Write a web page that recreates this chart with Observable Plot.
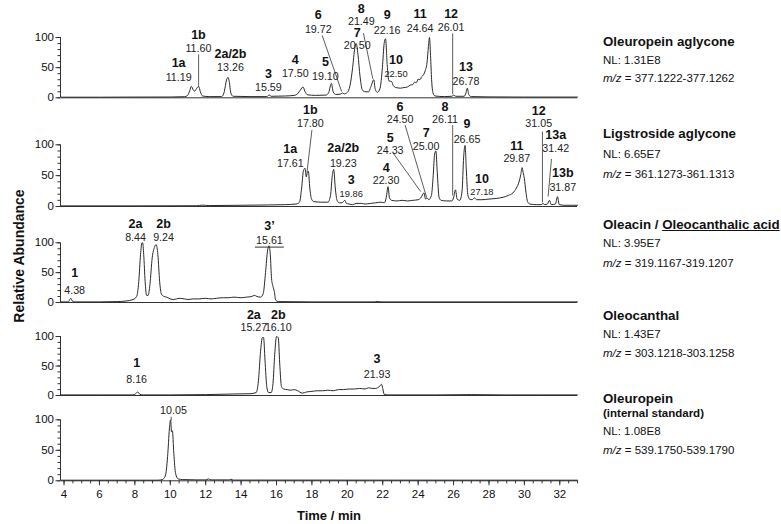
<!DOCTYPE html>
<html><head><meta charset="utf-8">
<script src="https://cdn.jsdelivr.net/npm/d3@7"></script>
<script src="https://cdn.jsdelivr.net/npm/@observablehq/plot@0.6"></script>
<style>
body{margin:0;background:#fff;font-family:Arial,"Liberation Sans",sans-serif;}
#wrap{position:relative;width:781px;height:524px;overflow:hidden;}
#wrap svg{display:block;}
.inf{position:absolute;left:603px;line-height:1;white-space:nowrap;color:#111;}
.ttl{font-weight:bold;font-size:13.3px;}
.sub{font-weight:bold;font-size:11.5px;}
.nl{font-size:11.5px;}
.ax{position:absolute;font-weight:bold;line-height:1;white-space:nowrap;color:#111;}
</style></head>
<body><div id="wrap"></div>
<script>
// ---------- chromatogram traces: [time (min), relative abundance (%)] ----------
const oleuropeinAglycone = [[3.85,1],[6,1],[8,1.2],[10,1.3],[10.8,1.8],[10.98,4],[11.1,12],[11.19,19],[11.3,13],[11.38,11],[11.48,15],[11.6,19],[11.7,10],[11.82,3],[12.2,2],[12.9,2],[13.05,10],[13.18,30],[13.26,34],[13.33,27],[13.42,8],[13.55,2.5],[14.5,2],[15.45,2],[15.59,4.5],[15.7,2.5],[16.5,3],[17.0,4],[17.2,7],[17.35,13],[17.5,18],[17.6,11],[17.75,5],[18.2,4],[18.8,4.5],[18.95,9],[19.1,24],[19.2,10],[19.35,5.5],[19.6,6],[19.72,8],[19.82,6.5],[20.0,9],[20.15,20],[20.3,50],[20.42,82],[20.5,90],[20.6,72],[20.72,35],[20.85,13],[21.0,10],[21.2,10],[21.35,20],[21.49,30],[21.58,14],[21.7,9],[21.85,16],[21.98,50],[22.08,90],[22.16,98],[22.25,55],[22.35,28],[22.5,27],[22.6,20],[22.75,17],[23.0,16],[23.2,17],[23.4,18],[23.55,21],[23.7,22],[23.8,26],[23.9,25],[24.0,31],[24.1,30],[24.2,35],[24.3,38],[24.4,45],[24.5,58],[24.58,85],[24.64,100],[24.7,70],[24.76,30],[24.84,8],[24.95,3],[25.5,2],[25.9,2.5],[26.01,4.5],[26.12,2.5],[26.6,2.5],[26.7,8],[26.78,16],[26.86,5],[27.0,2],[28,1.5],[30,1.2],[33,1.2]];
const ligstrosideAglycone = [[3.85,1],[8,1],[11.5,1.2],[11.8,2.2],[12.2,1.5],[14,2],[15.5,2.5],[16.5,3],[17.1,4],[17.3,7],[17.42,30],[17.52,58],[17.61,62],[17.68,48],[17.74,55],[17.8,57],[17.88,30],[17.98,12],[18.1,8],[18.5,7],[18.9,7],[19.05,18],[19.15,50],[19.23,60],[19.32,30],[19.42,10],[19.55,6],[19.7,6],[19.86,10],[19.95,5],[20.1,4],[20.3,3],[20.5,5],[20.8,5],[21.0,4],[21.3,5],[21.6,6],[21.9,7],[22.1,6],[22.2,15],[22.3,32],[22.38,14],[22.5,10],[22.8,9],[23.1,10],[23.4,9],[23.7,10],[24.0,11],[24.15,14],[24.33,22],[24.42,12],[24.5,14],[24.6,11],[24.75,18],[24.85,50],[24.93,85],[25.0,90],[25.08,55],[25.18,15],[25.3,10],[25.6,9],[25.9,9],[26.0,14],[26.11,27],[26.2,12],[26.35,10],[26.48,25],[26.57,80],[26.65,99],[26.72,60],[26.8,20],[26.9,12],[27.05,11],[27.18,14],[27.3,11],[27.6,11],[28.0,12],[28.4,13],[28.8,15],[29.1,18],[29.35,22],[29.55,30],[29.7,40],[29.8,52],[29.87,63],[29.93,55],[30.0,45],[30.08,25],[30.18,8],[30.3,4],[30.7,3],[30.95,3],[31.05,5],[31.15,3],[31.3,4],[31.42,10],[31.52,3],[31.75,4],[31.87,16],[31.97,3],[32.3,2],[33,2]];
const oleacin = [[3.85,1],[4.25,1],[4.32,5],[4.38,7],[4.45,3],[4.6,1],[6,1],[7,1.5],[7.5,2.5],[7.9,5],[8.1,10],[8.22,35],[8.32,80],[8.4,100],[8.44,100],[8.5,80],[8.58,35],[8.66,12],[8.75,12],[8.85,30],[8.98,75],[9.1,92],[9.2,97],[9.3,80],[9.4,35],[9.5,14],[9.65,10],[9.8,9],[10.0,6],[10.2,5],[10.5,7],[10.8,6],[11.0,5],[11.3,6],[11.6,6],[12.0,7],[12.3,6],[12.6,7],[13.0,8],[13.3,8],[13.6,9],[14.0,8],[14.3,9],[14.6,10],[14.75,12],[14.9,10],[15.1,9],[15.25,15],[15.38,50],[15.5,88],[15.58,95],[15.65,80],[15.72,40],[15.8,27],[15.88,18],[15.95,4],[16.1,1.5],[18,1],[21.5,1],[21.7,1.8],[21.9,1],[25,1],[33,1]];
const oleocanthal = [[3.85,1],[7.9,1],[8.05,3],[8.16,6],[8.28,2],[8.5,1],[10,1],[12,1.5],[13.5,2.5],[14.5,3],[14.85,5],[14.98,25],[15.1,75],[15.2,98],[15.27,98],[15.35,60],[15.45,15],[15.55,5],[15.7,5],[15.8,20],[15.9,70],[16.0,100],[16.1,98],[16.18,55],[16.28,15],[16.4,11],[16.6,10],[16.8,9],[17.0,10],[17.2,8],[17.45,4],[17.7,6],[18.0,7],[18.3,8],[18.6,8],[18.9,9],[19.2,8],[19.5,10],[19.8,10],[20.1,11],[20.4,11],[20.7,12],[21.0,11],[21.2,13],[21.4,12],[21.6,12],[21.8,15],[21.93,19],[22.0,12],[22.08,2],[22.3,1],[25,1],[27,1.5],[29,1],[33,1]];
const oleuropein = [[3.85,1],[9.3,1],[9.55,2],[9.72,8],[9.85,40],[9.95,85],[10.02,100],[10.07,80],[10.12,82],[10.2,45],[10.3,12],[10.45,3],[10.7,2],[11.5,1.5],[12.0,1.5],[12.15,3],[12.3,1.5],[13.3,1.5],[13.42,2.5],[13.55,1.2],[33,1]];

// ---------- peak labels: [compound, retention time] ----------
const p1Peaks = [["1a","11.19"],["1b","11.60"],["2a/2b","13.26"],["3","15.59"],["4","17.50"],["5","19.10"],["6","19.72"],["7","20.50"],["8","21.49"],["9","22.16"],["10","22.50"],["11","24.64"],["12","26.01"],["13","26.78"]];
const p2Peaks = [["1b","17.80"],["1a","17.61"],["2a/2b","19.23"],["3","19.86"],["4","22.30"],["5","24.33"],["6","24.50"],["7","25.00"],["8","26.11"],["9","26.65"],["10","27.18"],["11","29.87"],["12","31.05"],["13a","31.42"],["13b","31.87"]];
const p3Peaks = [["1","4.38"],["2a","8.44"],["2b","9.24"],["3’","15.61"]];
const p4Peaks = [["1","8.16"],["2a","15.27"],["2b","16.10"],["3","21.93"]];
const p5Peaks = [["","10.05"]];

// label placement: [x (min), compound y, rt y, small rt font]
const p1Place = [[10.47,58.4,34.1],[11.59,103.8,82.0],[13.40,72.5,49.5],[15.54,39.4,16.8],[17.06,63.4,40.7],[18.76,59.3,35.0],[18.36,136.8,112.9],[20.56,107.1,86.1],[20.79,147.5,125.7],[22.25,136.8,111.7],[22.75,62.6,39.6,1],[24.11,139.3,115.0],[25.86,139.3,116.7],[26.70,51.5,27.5]];
const p2Place = [[17.91,156.6,135.1],[16.78,93.4,70.3],[19.77,95.0,70.3],[20.22,43.1,20.1,1],[22.19,62.6,41.9],[22.42,111.2,91.4],[22.98,161.5,141.6],[24.45,119.3,97.9],[25.52,161.5,141.6],[26.76,133.9,109.2],[27.60,44.8,24.1,1],[29.57,98.2,77.6],[30.81,155.4,134.3],[31.77,116.1,94.1],[32.17,55.0,31.4]];
const p3Place = [[4.60,49.6,20.8],[8.04,131.7,109.6],[9.62,131.7,109.6],[15.60,127.5,103.7]];
const p4Place = [[8.10,55.2,27.0],[14.72,136.6,114.8],[16.10,136.6,114.8],[21.68,61.2,35.8]];
const p5Place = [[10.18,0,115.2]];

// leader lines: [x1, y1, x2, y2]
const p1Leaders = [[11.6,72,11.6,20],[18.58,103.5,19.68,10.4],[20.91,107.3,21.44,31.4],[25.95,106.8,25.95,6]];
const p2Leaders = [[18.0,124.0,17.72,55.1],[22.59,86.5,24.14,24.3],[23.26,132.0,24.48,14.6],[25.95,132.0,25.95,17.8],[31.02,121.5,31.02,6.5],[31.53,77.0,31.34,16.2]];
const p3Leaders = [];
const p4Leaders = [];
const p5Leaders = [[10.05,105,10.05,99]];
const p3Underline = [[14.78,92.8,16.42,92.8]];

// ---------- right-hand annotations ----------
const infoTitle = ["Oleuropein aglycone","Ligstroside aglycone","Oleacin / <u>Oleocanthalic acid</u>","Oleocanthal","Oleuropein"];
const infoSub = [null,null,null,null,"(internal standard)"];
const infoNL = ["1.31E8","6.65E7","3.95E7","1.43E7","1.08E8"];
const infoMz = ["377.1222-377.1262","361.1273-361.1313","319.1167-319.1207","303.1218-303.1258","539.1750-539.1790"];
const infoLineY = [[42,null,61,79],[134,null,155,175],[225,null,244,264],[316,null,335,354],[399,414,432,451]];

const xTicks = d3.range(4, 33, 2);
const xMinor = d3.range(4, 33.01, 0.5);
const yTicks = [0, 50, 100];
const yMinor = d3.range(0, 101, 10);

const panels = [
  {trace: oleuropeinAglycone, peaks: p1Peaks, place: p1Place, leaders: p1Leaders, height: 100, mt: 37, mb: 2.7},
  {trace: ligstrosideAglycone, peaks: p2Peaks, place: p2Place, leaders: p2Leaders, height: 112, mt: 44.3, mb: 6},
  {trace: oleacin, peaks: p3Peaks, place: p3Place, leaders: p3Leaders, underline: p3Underline, height: 95, mt: 30.3, mb: 5},
  {trace: oleocanthal, peaks: p4Peaks, place: p4Place, leaders: p4Leaders, height: 92, mt: 29, mb: 4},
  {trace: oleuropein, peaks: p5Peaks, place: p5Place, leaders: p5Leaders, height: 125, mt: 20.3, mb: 43.7, xAxis: true}
];

const FONT = "Arial, 'Liberation Sans', sans-serif";
const wrap = document.getElementById("wrap");

for (const p of panels) {
  const traceData = p.trace.map(([t, v]) => ({t, v}));
  const labels = p.peaks.map(([num, rt], i) => ({num, rt, lx: p.place[i][0], ly: p.place[i][1], ry: p.place[i][2], small: !!p.place[i][3]}));
  const leaders = p.leaders.map(([x1, y1, x2, y2]) => ({x1, y1, x2, y2}));
  const marks = [
    Plot.ruleY([0], {stroke: "#333", strokeWidth: 1}),
    Plot.ruleX([3.8], {y1: 0, y2: 100, stroke: "#333", strokeWidth: 1}),
    Plot.axisY(yTicks, {tickSize: 4.5, tickPadding: 2, fontSize: 11.5, label: null, stroke: "#333", fill: "#111"}),
    Plot.axisY(yMinor, {tickSize: 2.5, tickFormat: () => "", label: null, stroke: "#333"}),
    Plot.line(traceData, {x: "t", y: "v", stroke: "#2a2a2a", strokeWidth: 1, curve: "monotone-x"}),
    Plot.link(leaders, {x1: "x1", y1: "y1", x2: "x2", y2: "y2", stroke: "#333", strokeWidth: 0.8}),
    Plot.text(labels.filter(d => d.num), {x: "lx", y: "ly", text: "num", fontWeight: "bold", fontSize: 12.5, fill: "#111"}),
    Plot.text(labels.filter(d => !d.small), {x: "lx", y: "ry", text: "rt", fontSize: 10.7, fill: "#222"}),
    Plot.text(labels.filter(d => d.small), {x: "lx", y: "ry", text: "rt", fontSize: 9.3, fill: "#222"})
  ];
  if (p.underline) marks.push(Plot.link(p.underline.map(([x1, y1, x2, y2]) => ({x1, y1, x2, y2})), {x1: "x1", y1: "y1", x2: "x2", y2: "y2", stroke: "#333", strokeWidth: 1}));
  if (p.xAxis) {
    marks.push(Plot.axisX(xTicks, {tickSize: 5, tickPadding: 4, fontSize: 11.5, label: null, stroke: "#333", fill: "#111"}));
    marks.push(Plot.axisX(xMinor, {tickSize: 3, tickFormat: () => "", label: null, stroke: "#333"}));
  }
  const svg = Plot.plot({
    width: 781, height: p.height,
    marginLeft: 60, marginRight: 204, marginTop: p.mt, marginBottom: p.mb,
    x: {domain: [3.8, 33], axis: null},
    y: {domain: [0, 100], axis: null},
    style: {fontFamily: FONT, background: "white", overflow: "visible"},
    marks
  });
  wrap.appendChild(svg);
}

// right-hand info blocks
infoTitle.forEach((title, i) => {
  const [ty, sy, ny, my] = infoLineY[i];
  const add = (cls, html, y, size) => {
    const d = document.createElement("div");
    d.className = "inf " + cls;
    d.innerHTML = html;
    d.style.top = (y - size / 2) + "px";
    wrap.appendChild(d);
  };
  add("ttl", title, ty, 13.3);
  if (infoSub[i]) add("sub", infoSub[i], sy, 11.5);
  add("nl", "NL: " + infoNL[i], ny, 11.5);
  add("nl", "<i>m/z</i> = " + infoMz[i], my, 11.5);
});

// axis titles
const xt = document.createElement("div");
xt.className = "ax"; xt.textContent = "Time / min";
xt.style.fontSize = "13px"; xt.style.left = "329px"; xt.style.top = "515px";
xt.style.transform = "translate(-50%,-50%)";
wrap.appendChild(xt);
const yt = document.createElement("div");
yt.className = "ax"; yt.textContent = "Relative Abundance";
yt.style.fontSize = "14px"; yt.style.left = "19px"; yt.style.top = "256px";
yt.style.transform = "translate(-50%,-50%) rotate(-90deg)";
wrap.appendChild(yt);
</script></body></html>
